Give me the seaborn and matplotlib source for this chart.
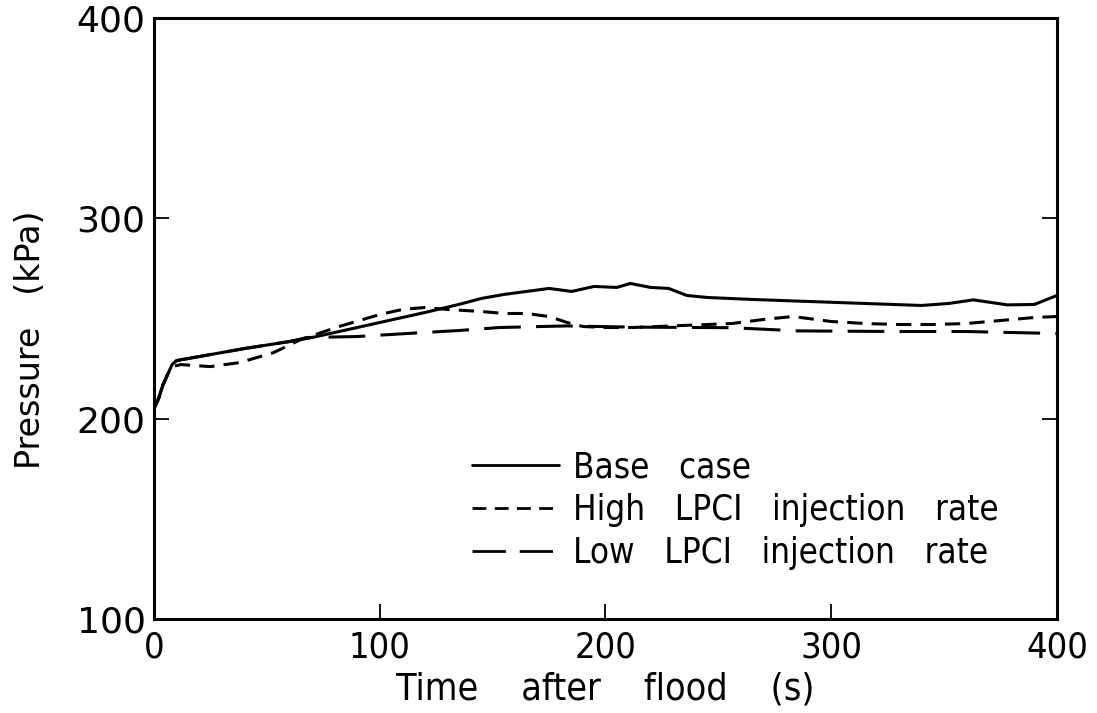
import matplotlib
matplotlib.use("Agg")
import matplotlib.pyplot as plt
import seaborn as sns

# Pressure response after flood for three LPCI cases
time_base = [0, 2, 4, 6, 8, 10, 20, 40, 60, 70, 80, 100, 120, 135, 145, 155, 165,
             175, 185, 195, 205, 211, 220, 228, 236, 245, 265, 290, 315, 340, 352,
             363, 378, 390, 400]
p_base = [205, 210, 217, 222, 227, 229, 231, 235, 238.5, 240.5, 243, 248, 253, 257,
          260, 262, 263.5, 265, 263.5, 266, 265.5, 267.5, 265.5, 265, 261.5, 260.5,
          259.5, 258.5, 257.5, 256.5, 257.5, 259.3, 256.8, 257, 261.5]

time_high = [0, 2, 4, 6, 8, 12, 18, 25, 38, 53, 65, 82, 100, 110, 120, 130, 145, 155,
             165, 175, 183, 190, 200, 212, 234, 256, 270, 283, 300, 315, 330, 345,
             360, 375, 390, 400]
p_high = [205, 210, 217, 222, 226, 227, 226.5, 226, 228, 233, 239.5, 246, 252, 254.5,
          255.5, 254.5, 253.5, 252.5, 252.5, 251, 248, 246, 245.5, 245.5, 246.5,
          247.5, 249.5, 251, 248.5, 247.5, 247, 247, 247.5, 249, 250.5, 251]

time_low = [0, 2, 4, 6, 8, 10, 20, 40, 60, 68, 90, 112, 135, 153, 183, 212, 256, 286,
            330, 360, 380, 400]
p_low = [205, 210, 217, 222, 227, 229, 231, 235, 238.5, 240.5, 241, 242.5, 244,
         245.5, 246.3, 245.7, 245.4, 243.8, 243.5, 243.5, 243, 242.5]

labels = ["Base   case", "High   LPCI   injection   rate",
          "Low   LPCI   injection   rate"]
x_ticks = [0, 100, 200, 300, 400]
y_ticks = [100, 200, 300, 400]

sns.set_theme(style="ticks")
plt.rcParams["font.family"] = ["DejaVu Sans"]
plt.rcParams["text.color"] = "black"
plt.rcParams["axes.labelcolor"] = "black"

fig = plt.figure(figsize=(10.97, 7.13), dpi=100)
ax = fig.add_axes([0.1404, 0.1318, 0.8231, 0.843])

lw = 2.2
sns.lineplot(x=time_base, y=p_base, ax=ax, color="black", lw=lw, label=labels[0])
sns.lineplot(x=time_high, y=p_high, ax=ax, color="black", lw=lw, label=labels[1])
sns.lineplot(x=time_low, y=p_low, ax=ax, color="black", lw=lw, label=labels[2])
lines = ax.get_lines()
lines[1].set_dashes((5, 3))
lines[2].set_dashes((12, 5))

ax.set_xlim(0, 400)
ax.set_ylim(100, 400)
ax.set_xticks(x_ticks)
ax.set_yticks(y_ticks)

for side in ["left", "right", "top", "bottom"]:
    ax.spines[side].set_visible(True)
    ax.spines[side].set_linewidth(2.2)
    ax.spines[side].set_color("black")

ax.tick_params(direction="in", length=11, width=1.3, top=False, right=True,
               colors="black")
ax.tick_params(axis="y", labelsize=26, pad=6)
ax.tick_params(axis="x", labelsize=26, pad=8)
for lab in ax.get_xticklabels():
    lab.set_fontstretch("condensed")

ax.set_xlabel("Time    after    flood    (s)", fontsize=27, fontstretch="condensed",
              labelpad=5)
ax.set_ylabel("Pressure   (kPa)", fontsize=24)
ax.yaxis.set_label_coords(-0.118, 0.465)

leg = ax.legend(loc="center left", bbox_to_anchor=(0.352, 0.181), frameon=False,
                fontsize=25, handlelength=2.5, handletextpad=0.4,
                labelspacing=0.25, borderaxespad=0, borderpad=0)
for t in leg.get_texts():
    t.set_fontstretch("condensed")
    t.set_color("black")
for h in leg.get_lines():
    h.set_linewidth(2.0)

fig.savefig("out.png", dpi=100, facecolor="white")
